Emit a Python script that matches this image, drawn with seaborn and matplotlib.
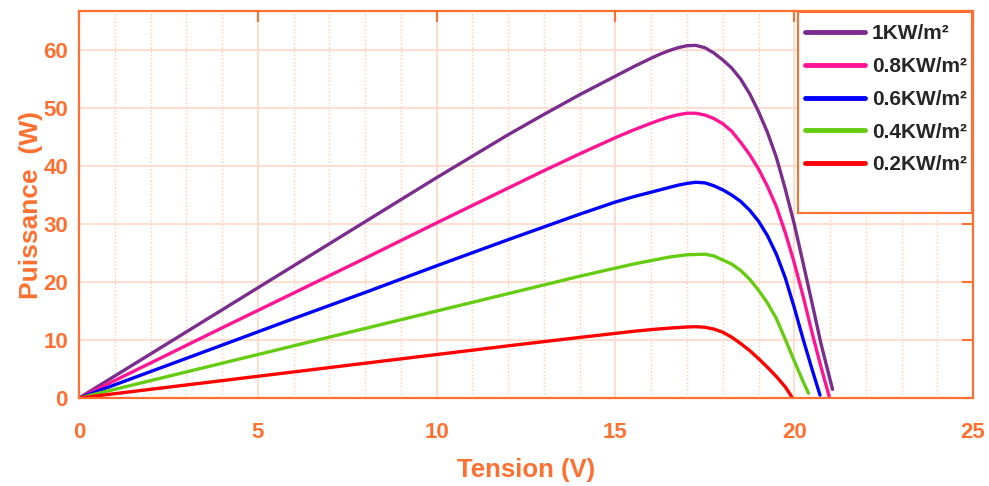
import seaborn as sns
import matplotlib.pyplot as plt
import pandas as pd
from matplotlib.ticker import MultipleLocator
from matplotlib.patches import Rectangle

# curves: tension (V) / puissance (W)
v_1000 = [0, 2, 4, 6, 8, 10, 12, 13, 14, 15, 15.5, 16, 16.25, 16.5, 16.75, 17, 17.25, 17.5, 17.75,
          18, 18.25, 18.5, 18.75, 19, 19.25, 19.5, 19.75, 20, 20.25, 20.5, 20.75, 21.07]
p_1000 = [0, 7.6, 15.2, 22.8, 30.4, 38.0, 45.4, 48.9, 52.3, 55.5, 57.1, 58.6, 59.3, 59.9, 60.4, 60.75, 60.8, 60.4, 59.5,
          58.3, 56.9, 55.0, 52.5, 49.4, 45.8, 41.5, 36.0, 30.0, 23.2, 16.3, 9.3, 1.5]

v_800 = [0, 2, 4, 6, 8, 10, 12, 13, 14, 15, 15.5, 16, 16.25, 16.5, 16.75, 17, 17.25, 17.5, 17.75,
         18, 18.25, 18.5, 18.75, 19, 19.25, 19.5, 19.75, 20, 20.25, 20.5, 20.75, 20.98]
p_800 = [0, 6.04, 12.1, 18.1, 24.1, 30.2, 36.2, 39.2, 42.1, 44.9, 46.2, 47.4, 47.95, 48.45, 48.85, 49.1, 49.1, 48.8, 48.2,
         47.3, 46.0, 44.1, 42.0, 39.5, 36.5, 33.0, 28.5, 23.3, 17.5, 11.2, 5.3, 0.2]

v_600 = [0, 2, 4, 6, 8, 10, 12, 13, 14, 15, 15.5, 16, 16.25, 16.5, 16.75, 17, 17.25, 17.5, 17.75,
         18, 18.25, 18.5, 18.75, 19, 19.25, 19.5, 19.75, 20, 20.25, 20.5, 20.72]
p_600 = [0, 4.56, 9.12, 13.7, 18.2, 22.8, 27.3, 29.5, 31.7, 33.8, 34.7, 35.5, 35.9, 36.3, 36.7, 37.0, 37.2, 37.1, 36.6,
         35.9, 35.0, 33.9, 32.4, 30.5, 28.0, 24.8, 20.7, 15.6, 10.1, 4.9, 0.5]

v_400 = [0, 2, 4, 6, 8, 10, 12, 14, 15, 15.5, 16, 16.5, 17, 17.5, 17.75,
         18, 18.25, 18.5, 18.75, 19, 19.25, 19.5, 19.75, 20, 20.25, 20.4]
p_400 = [0, 3.0, 6.0, 9.0, 12.0, 15.0, 18.0, 21.0, 22.4, 23.1, 23.7, 24.3, 24.7, 24.8, 24.5,
         23.8, 23.1, 22.0, 20.5, 18.6, 16.4, 13.7, 10.1, 6.4, 2.8, 0.8]

v_200 = [0, 2, 4, 6, 8, 10, 12, 14, 15, 15.5, 16, 16.5, 17, 17.25, 17.5, 17.75,
         18, 18.25, 18.5, 18.75, 19, 19.25, 19.5, 19.75, 19.93]
p_200 = [0, 1.5, 3.0, 4.5, 6.0, 7.5, 9.0, 10.45, 11.15, 11.5, 11.8, 12.05, 12.25, 12.3, 12.2, 11.9,
         11.35, 10.5, 9.4, 8.2, 6.8, 5.3, 3.7, 1.9, 0.2]

labels = ['1KW/m²', '0.8KW/m²', '0.6KW/m²', '0.4KW/m²', '0.2KW/m²']
colors = ['#7B2D8E', '#FF1493', '#0000FF', '#66CC11', '#FF0000']

orange = '#FF6F30'

frames = []
for lab, v, p in zip(labels, [v_1000, v_800, v_600, v_400, v_200],
                     [p_1000, p_800, p_600, p_400, p_200]):
    frames.append(pd.DataFrame({'V': v, 'P': p, 'G': lab}))
df = pd.concat(frames, ignore_index=True)

sns.set_style('white')
plt.rcParams['font.family'] = ['Liberation Sans', 'DejaVu Sans']

fig = plt.figure(figsize=(9.89, 4.86), dpi=100)
ax = fig.add_axes([0.0799, 0.181, 0.904, 0.796])

sns.lineplot(data=df, x='V', y='P', hue='G', palette=dict(zip(labels, colors)),
             sort=False, estimator=None, linewidth=2.4, ax=ax)
for ln in ax.get_lines():
    ln.set_solid_joinstyle('round')

ax.set_xlim(0, 25)
ax.set_ylim(0, 66.7)
ax.xaxis.set_major_locator(MultipleLocator(5))
ax.xaxis.set_minor_locator(MultipleLocator(1))
ax.yaxis.set_major_locator(MultipleLocator(10))

ax.grid(True, which='major', color='#FFD8C6', linestyle='-', linewidth=1.2)
ax.grid(True, which='minor', axis='x', color='#FFC9B0', linestyle=':', linewidth=1.0)
ax.set_axisbelow(True)

for s in ax.spines.values():
    s.set_color(orange)
    s.set_linewidth(1.6)

ax.tick_params(which='major', direction='in', length=8, width=1.5, color=orange,
               top=True, right=True, labelcolor=orange, labelsize=16)
ax.tick_params(axis='x', pad=17)
ax.tick_params(axis='y', pad=8)
ax.tick_params(which='minor', length=0)
for t in ax.get_xticklabels() + ax.get_yticklabels():
    t.set_fontweight('bold')

ax.set_xlabel('Tension (V)', color=orange, fontsize=18.5, fontweight='bold', labelpad=11)
ax.set_ylabel('Puissance  (W)', color=orange, fontsize=19, fontweight='bold', labelpad=0)

# legend box (MATLAB style, with room left below the entries)
ax.add_patch(Rectangle((0.804, 0.478), 0.195, 0.519, transform=ax.transAxes,
                       facecolor='white', edgecolor=orange, linewidth=1.5, zorder=4))
leg = ax.legend(loc='upper left', bbox_to_anchor=(0.812, 0.966), fontsize=15,
                frameon=False, handlelength=2.9, handletextpad=0.3,
                labelspacing=0.66, borderpad=0, borderaxespad=0)
leg.set_zorder(5)
for t in leg.get_texts():
    t.set_fontweight('bold')
for h in leg.get_lines():
    h.set_linewidth(3.5)

fig.savefig('out.png', dpi=100)
